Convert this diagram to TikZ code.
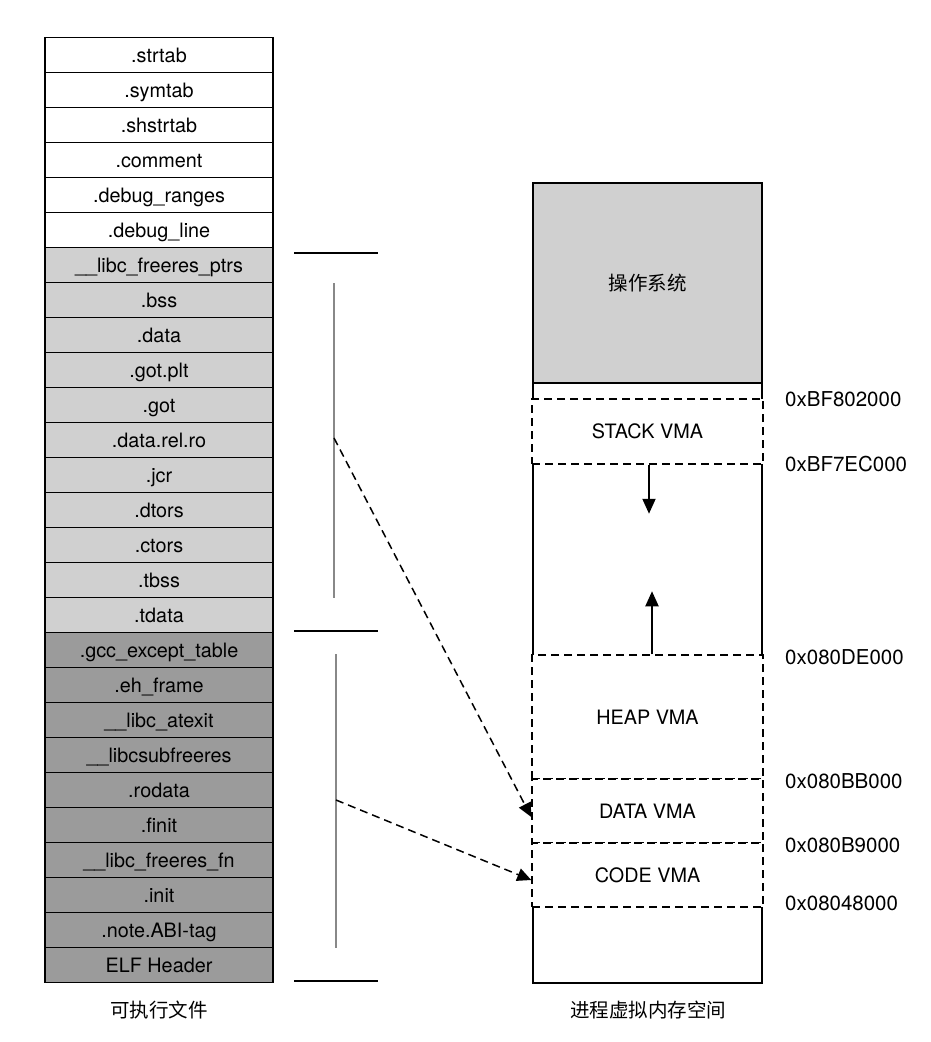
\documentclass[tikz,border=0pt]{standalone}
\usepackage{fontspec}
\setmainfont{TeX Gyre Heros}
\newfontfamily\cjk{Noto Sans CJK SC}
\usetikzlibrary{arrows.meta}
\definecolor{lgray}{HTML}{D0D0D0}
\definecolor{dgray}{HTML}{9B9B9B}
\definecolor{midgray}{HTML}{888888}
\begin{document}
\begin{tikzpicture}[x=1pt,y=-1pt,
  sec/.style={draw=black,line width=1.5pt,minimum width=228pt,minimum height=35pt,inner sep=0pt,
    text height=15pt,text depth=0pt,font=\fontsize{19.8}{22}\selectfont},
  wsec/.style={sec,fill=white},
  lsec/.style={sec,fill=lgray},
  dsec/.style={sec,fill=dgray},
  vmregion/.style={draw=black,line width=1.5pt,dash pattern=on 8pt off 5pt,fill=white,
    minimum width=231pt,inner sep=0pt,font=\fontsize{19.8}{22}\selectfont},
  addrlabel/.style={anchor=west,inner sep=0pt,text height=14pt,text depth=0pt,font=\fontsize{20.5}{22}\selectfont},
  bracketline/.style={line width=2pt},
  spanline/.style={midgray,line width=1.5pt},
  maparrow/.style={line width=1.5pt,dash pattern=on 8pt off 5pt,-{Triangle[length=14pt,width=13pt]}},
  growarrow/.style={line width=2pt,-{Triangle[length=15pt,width=13pt]}},
  captiontext/.style={font=\cjk\fontsize{19.5}{22}\selectfont,inner sep=0pt}
]
\useasboundingbox (0,0) rectangle (930,1042);

% ---- executable file sections ----
\node[wsec] (s1)  at (159, 55) {.strtab};
\node[wsec] (s2)  at (159, 90) {.symtab};
\node[wsec] (s3)  at (159,125) {.shstrtab};
\node[wsec] (s4)  at (159,160) {.comment};
\node[wsec] (s5)  at (159,195) {.debug\_ranges};
\node[wsec] (s6)  at (159,230) {.debug\_line};
\node[lsec] (s7)  at (159,265) {\_\_libc\_freeres\_ptrs};
\node[lsec] (s8)  at (159,300) {.bss};
\node[lsec] (s9)  at (159,335) {.data};
\node[lsec] (s10) at (159,370) {.got.plt};
\node[lsec] (s11) at (159,405) {.got};
\node[lsec] (s12) at (159,440) {.data.rel.ro};
\node[lsec] (s13) at (159,475) {.jcr};
\node[lsec] (s14) at (159,510) {.dtors};
\node[lsec] (s15) at (159,545) {.ctors};
\node[lsec] (s16) at (159,580) {.tbss};
\node[lsec] (s17) at (159,615) {.tdata};
\node[dsec] (s18) at (159,650) {.gcc\_except\_table};
\node[dsec] (s19) at (159,685) {.eh\_frame};
\node[dsec] (s20) at (159,720) {\_\_libc\_atexit};
\node[dsec] (s21) at (159,755) {\_\_libcsubfreeres};
\node[dsec] (s22) at (159,790) {.rodata};
\node[dsec] (s23) at (159,825) {.finit};
\node[dsec] (s24) at (159,860) {\_\_libc\_freeres\_fn};
\node[dsec] (s25) at (159,895) {.init};
\node[dsec] (s26) at (159,930) {.note.ABI-tag};
\node[dsec] (s27) at (159,965) {ELF Header};
\node[captiontext] (cap1) at (159,1010) {可执行文件};

% ---- segment brackets ----
\coordinate (b1l) at (294,253); \coordinate (b1r) at (378,253);
\coordinate (b2l) at (294,631); \coordinate (b2r) at (378,631);
\coordinate (b3l) at (294,981); \coordinate (b3r) at (378,981);
\draw[bracketline] (b1l) -- (b1r);
\draw[bracketline] (b2l) -- (b2r);
\draw[bracketline] (b3l) -- (b3r);
\coordinate (g1t) at (334,283); \coordinate (g1b) at (334,598);
\coordinate (g2t) at (336,654); \coordinate (g2b) at (336,948);
\draw[spanline] (g1t) -- (g1b);
\draw[spanline] (g2t) -- (g2b);
\coordinate (a1s) at (334,438);
\coordinate (a2s) at (336,800);

% ---- process virtual memory ----
\node[draw=black,line width=2pt,minimum width=229pt,minimum height=800pt,inner sep=0pt] (mem) at (647.5,583) {};
\node[draw=black,line width=2pt,fill=lgray,minimum width=229pt,minimum height=200pt,inner sep=0pt,
  font=\cjk\fontsize{19.5}{22}\selectfont] (os) at (647.5,283) {操作系统};
\node[vmregion,minimum height=65pt] (stack) at (647.5,431.5) {STACK VMA};
\node[vmregion,minimum height=124pt] (heap) at (647.5,717) {HEAP VMA};
\node[vmregion,minimum height=64pt] (data) at (647.5,811) {DATA VMA};
\node[vmregion,minimum height=64pt] (code) at (647.5,875) {CODE VMA};
\node[captiontext] (cap2) at (648,1010) {进程虚拟内存空间};

\node[addrlabel] (ad1) at (785,399) {0xBF802000};
\node[addrlabel] (ad2) at (785,464) {0xBF7EC000};
\node[addrlabel] (ad3) at (785,657) {0x080DE000};
\node[addrlabel] (ad4) at (785,781) {0x080BB000};
\node[addrlabel] (ad5) at (785,845) {0x080B9000};
\node[addrlabel] (ad6) at (785,903) {0x08048000};

\draw[growarrow] ([xshift=1.5pt]stack.south) -- ++(0,49);
\draw[growarrow] ([xshift=4.5pt]heap.north) -- ++(0,-63);

\draw[maparrow] (a1s) -- ([yshift=-6pt]data.west);
\draw[maparrow] (a2s) -- ([yshift=-5pt]code.west);
\end{tikzpicture}
\end{document}
